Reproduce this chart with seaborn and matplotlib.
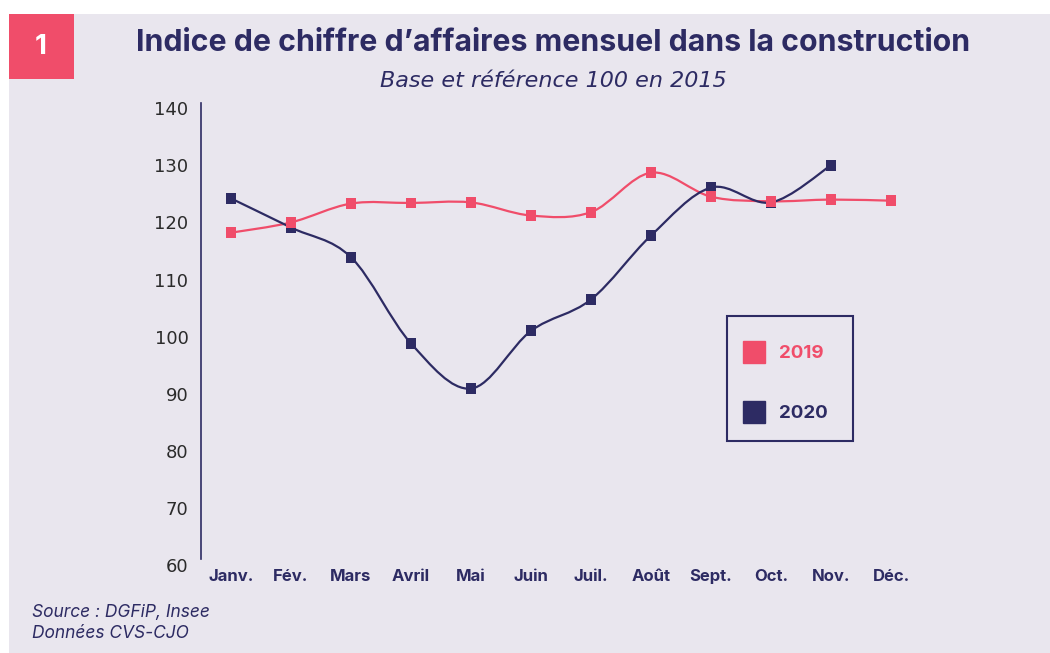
import numpy as np
import pandas as pd
import seaborn as sns
import matplotlib.pyplot as plt
from matplotlib.path import Path
from matplotlib.patches import PathPatch, Rectangle
from matplotlib.lines import Line2D

months = ['Janv.', 'Fév.', 'Mars', 'Avril', 'Mai', 'Juin', 'Juil.', 'Août',
          'Sept.', 'Oct.', 'Nov.', 'Déc.']
vals_2019 = [118.2, 120.0, 123.3, 123.4, 123.5, 121.2, 121.8, 128.7, 124.5, 123.7, 124.0, 123.8]
vals_2020 = [124.2, 119.1, 113.9, 98.8, 90.9, 101.0, 106.5, 117.7, 126.1, 123.5, 130.0]
yticks = [60, 70, 80, 90, 100, 110, 120, 130, 140]

pink = '#F04D6A'
navy = '#2D2B63'
bg = '#E9E6EE'

rows = []
for i, v in enumerate(vals_2020):
    rows.append(dict(mois=i, val=v, annee='2020'))
for i, v in enumerate(vals_2019):
    rows.append(dict(mois=i, val=v, annee='2019'))
df = pd.DataFrame(rows)

sns.set_style('white')
plt.rcParams['font.family'] = ['Inter', 'DejaVu Sans']

fig = plt.figure(figsize=(10.5, 6.53), dpi=100)
fig.patch.set_facecolor('white')
fig.patches.append(Rectangle((9 / 1050, 0), 1 - 9 / 1050, 1 - 14 / 653,
                             transform=fig.transFigure, facecolor=bg, edgecolor='none', zorder=-2))
fig.patches.append(Rectangle((9 / 1050, 1 - 79 / 653), 65 / 1050, 65 / 653,
                             transform=fig.transFigure, facecolor=pink, edgecolor='none', zorder=-1))
fig.text(41 / 1050, 1 - 47 / 653, '1', color='white', fontsize=20, fontweight='bold',
         ha='center', va='center')

ax = fig.add_axes([201 / 1050, 1 - 565 / 653, 720 / 1050, 462.5 / 653])
ax.set_facecolor('none')
ax.set_zorder(5)


def smooth(ax, ys, color, z):
    # catmull-rom segments drawn as cubic beziers in data space
    xs = np.arange(len(ys), dtype=float)
    pts = np.column_stack([xs, np.asarray(ys, dtype=float)])
    ext = np.vstack([pts[0], pts, pts[-1]])
    verts = [tuple(pts[0])]
    codes = [Path.MOVETO]
    for k in range(len(pts) - 1):
        p0, p1, p2, p3 = ext[k], ext[k + 1], ext[k + 2], ext[k + 3]
        c1 = p1 + (p2 - p0) / 6
        c2 = p2 - (p3 - p1) / 6
        verts += [tuple(c1), tuple(c2), tuple(p2)]
        codes += [Path.CURVE4] * 3
    ax.add_patch(PathPatch(Path(verts, codes), facecolor='none', edgecolor=color,
                           lw=1.6, zorder=z))


smooth(ax, vals_2019, pink, 2)
smooth(ax, vals_2020, navy, 2.5)

sns.scatterplot(data=df, x='mois', y='val', hue='annee', palette={'2019': pink, '2020': navy},
                marker='s', s=62, linewidth=0, legend=False, ax=ax, zorder=3)

ax.set_xlim(-0.5, 11.5)
ax.set_ylim(60, 141)
ax.set_xticks(range(len(months)))
ax.set_xticklabels(months, fontsize=12, fontweight='bold', color=navy)
ax.set_yticks(yticks)
ax.set_yticklabels([str(t) for t in yticks], fontsize=13, color='#2b2b2b',
                   family=['DejaVu Sans'])
ax.tick_params(axis='y', length=0, pad=9)
ax.tick_params(axis='x', length=0, pad=3)
ax.set_xlabel('')
ax.set_ylabel('')
for s in ['top', 'right', 'bottom']:
    ax.spines[s].set_visible(False)
ax.spines['left'].set_color(navy)
ax.spines['left'].set_linewidth(1.2)
ax.spines['left'].set_bounds(61, 141)

# legend box drawn separately so its vertical padding can differ from the horizontal one
ax.add_patch(Rectangle((0.7306, 0.268), 0.175, 0.2703, transform=ax.transAxes,
                       facecolor='none', edgecolor=navy, lw=1.5, zorder=6))
handles = [Line2D([], [], marker='s', ls='none', color=pink, markersize=16, label='2019'),
           Line2D([], [], marker='s', ls='none', color=navy, markersize=16, label='2020')]
leg = ax.legend(handles=handles, loc='upper left', bbox_to_anchor=(0.7306, 0.508),
                frameon=False, fontsize=13.5, borderpad=0.8,
                labelspacing=2.3, handlelength=1.3, handletextpad=0.65, borderaxespad=0)
for t, c in zip(leg.get_texts(), [pink, navy]):
    t.set_color(c)
    t.set_fontweight('bold')

fig.text(553 / 1050, 1 - 43 / 653, 'Indice de chiffre d\u2019affaires mensuel dans la construction',
         color=navy, fontsize=21.8, fontweight='bold', ha='center', va='center')
fig.text(553 / 1050, 1 - 81 / 653, 'Base et référence 100 en 2015', color=navy,
         fontsize=16, style='italic', ha='center', va='center', family=['DejaVu Sans'])
fig.text(32 / 1050, 1 - 612 / 653, 'Source : DGFiP, Insee', color=navy, fontsize=12.5,
         style='italic', ha='left', va='center')
fig.text(32 / 1050, 1 - 634 / 653, 'Données CVS-CJO', color=navy, fontsize=12.5,
         style='italic', ha='left', va='center')

fig.savefig('out.png', dpi=100)
